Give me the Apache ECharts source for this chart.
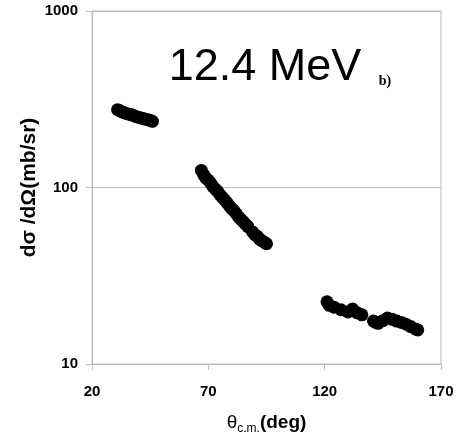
<!DOCTYPE html>
<html>
<head>
<meta charset="utf-8">
<script src="https://cdn.jsdelivr.net/npm/echarts@6/dist/echarts.min.js"></script>
<style>
    html, body { margin: 0; padding: 0; background: #fff; }
    #chart { width: 465px; height: 436px; }
</style>
</head>
<body>
<div id="chart"></div>
<script>
// angle (deg, c.m.) and cross section (mb/sr)
const angles = [31, 32, 33, 34, 35, 36, 37, 38, 39, 40, 41, 42, 43, 44, 45, 46,
    67, 68, 69, 70, 71, 72, 73, 74, 75, 76, 77, 78, 79, 80, 81, 82, 83, 84, 85, 86, 87,
    89, 90, 91, 92, 93, 94, 95,
    121, 122, 124, 127, 130, 132, 134, 136,
    141, 142, 143, 145, 147, 149, 151, 153, 155, 157, 159, 160]
const sigma = [276, 272, 268, 265, 262, 260, 258, 255, 252, 250, 248, 246, 244, 242, 240, 237,
    125, 118, 113, 110, 106, 101, 98, 95, 91, 88, 85, 82, 79, 76, 74, 71, 68, 66, 64, 62, 60,
    56, 54, 53, 51, 50, 49, 48,
    22.5, 21.5, 21, 20.3, 19.7, 20.5, 19.5, 19,
    17.5, 17.2, 17.0, 17.6, 18.2, 17.9, 17.5, 17.2, 16.8, 16.3, 15.8, 15.6]
const xTicks = [20, 70, 120, 170]
const yTicks = [10, 100, 1000]

const axisGray = '#bdbdbd'
const labelFont = {color: '#000', fontFamily: 'Liberation Sans', fontWeight: 'bold', fontSize: 15}

let points = angles.map((a, i) => [a, sigma[i]])

let myChart = echarts.init(document.getElementById('chart'))
let option = {
    animation: false,
    grid: {
        left: 92,
        right: 24,
        top: 11,
        bottom: 72,
        containLabel: false,
        outerBoundsMode: 'none',
        show: true,
        borderColor: axisGray,
        borderWidth: 1
    },
    xAxis: {
        type: 'value',
        min: xTicks[0],
        max: xTicks[xTicks.length - 1],
        interval: 50,
        axisLine: {onZero: false, lineStyle: {color: axisGray}},
        axisTick: {show: true, length: 6, lineStyle: {color: axisGray}},
        splitLine: {show: false},
        axisLabel: Object.assign({margin: 20}, labelFont),
        name: '{t|θ}{s|c.m.}{b|(deg)}',
        nameLocation: 'middle',
        nameGap: 47,
        nameTextStyle: {
            rich: {
                t: {fontFamily: 'Liberation Sans', fontSize: 19, color: '#000'},
                s: {fontFamily: 'Liberation Sans', fontSize: 12, color: '#000', padding: [12, 0, 0, 0]},
                b: {fontFamily: 'Liberation Sans', fontWeight: 'bold', fontSize: 19, color: '#000'}
            }
        }
    },
    yAxis: {
        type: 'log',
        logBase: 10,
        min: yTicks[0],
        max: yTicks[yTicks.length - 1],
        axisLine: {lineStyle: {color: axisGray}},
        axisTick: {show: true, length: 6, lineStyle: {color: axisGray}},
        minorTick: {show: false},
        splitLine: {show: true, lineStyle: {color: axisGray, width: 1}},
        axisLabel: Object.assign({margin: 14, formatter: v => String(v)}, labelFont),
        name: 'dσ /dΩ(mb/sr)',
        nameLocation: 'middle',
        nameRotate: 90,
        nameGap: 52,
        nameMoveOverlap: false,
        nameTextStyle: {fontFamily: 'Liberation Sans', fontWeight: 'bold', fontSize: 21, color: '#000'}
    },
    graphic: [
        {
            type: 'text',
            x: 265,
            y: 68,
            style: {
                text: '12.4 MeV',
                fontFamily: 'Liberation Sans',
                fontSize: 45,
                fill: '#000',
                textAlign: 'center',
                textVerticalAlign: 'middle'
            }
        },
        {
            type: 'text',
            x: 385,
            y: 81,
            style: {
                text: 'b)',
                fontFamily: 'Liberation Serif',
                fontWeight: 'bold',
                fontSize: 14,
                fill: '#000',
                textAlign: 'center',
                textVerticalAlign: 'middle'
            }
        }
    ],
    series: [
        {
            type: 'scatter',
            data: points,
            symbol: 'circle',
            symbolSize: 13,
            itemStyle: {color: '#000', opacity: 1}
        }
    ]
}

myChart.setOption(option)
</script>
</body>
</html>
